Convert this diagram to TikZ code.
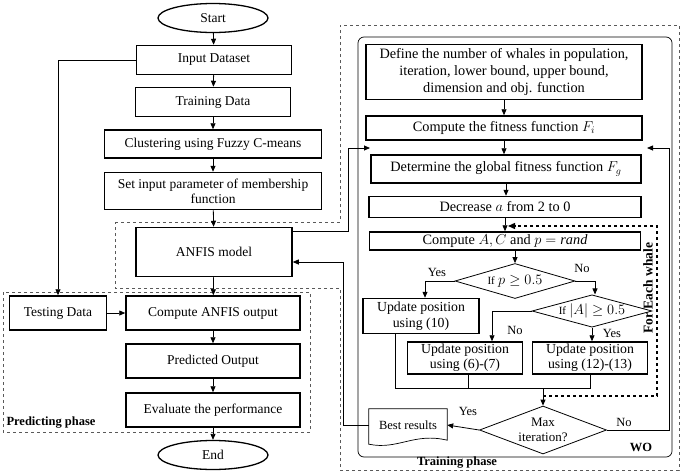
\documentclass[tikz,border=0pt]{standalone}
\usepackage{fontspec}
\setmainfont{Liberation Serif}
\usetikzlibrary{calc,positioning,arrows.meta,shapes.geometric}
\tikzstyle{box}   = [rectangle, draw, line width=1.5pt, align=center, inner sep=1pt]
\tikzstyle{arrow} = [line width=0.8pt, -{Triangle[length=6pt,width=5pt]}]

\begin{document}
\begin{tikzpicture}[x=1pt, y=-1pt,
			font=\fontsize{13.5}{15}\selectfont,
			term/.style={ellipse, draw, line width=1.3pt,
					minimum width=110pt, minimum height=29pt},
			decision/.style={diamond, draw, line width=0.8pt,
					inner sep=0pt, align=center},
			phase/.style={draw=black!65, dashed, line width=0.7pt},
			whaleloop/.style={dashed, line width=1.4pt,
					-{Triangle[length=7pt,width=6pt]}},
			lbl/.style={font=\fontsize{12.5}{14}\selectfont},
			head/.style={font=\fontsize{12.5}{14}\selectfont\bfseries}
		]
		\useasboundingbox (0,0) rectangle (685,474);
		% phases
		\draw[phase] (115,222) -- (340,222) -- (340,25) -- (679,25) -- (679,470)
			-- (340,470) -- (340,288) -- (115,288) -- cycle;
		\draw[phase] (3,292) rectangle (310,432);
		\draw[line width=0.7pt, rounded corners=6pt] (358,37) rectangle (672,457);
		\node[head, anchor=south west] (pp) at (3,432) {Predicting phase};
		\node[head] (tp) at (457,463) {Training phase};
		\node[head] (wo) at (641,447) {WO};

		% ANFIS side
		\node[term] (start) at (213,18) {Start};
		\node[box, minimum width=155pt, minimum height=29pt] (input) at (214,60) {Input Dataset};
		\node[box, minimum width=155pt, minimum height=29pt] (train) at (213,102) {Training Data};
		\node[box, minimum width=217pt, minimum height=28pt] (clus) at (213,144) {Clustering using Fuzzy C-means};
		\node[box, minimum width=217pt, minimum height=37pt, font=\fontsize{13.5}{15}\selectfont] (setp) at (213,191)
			{Set input parameter of membership\\function};
		\node[box, minimum width=156pt, minimum height=49pt] (anfis) at (214,252) {ANFIS model};
		\node[box, minimum width=97pt, minimum height=34pt] (test) at (58,313) {Testing Data};
		\node[box, minimum width=174pt, minimum height=34pt] (comp) at (213,313) {Compute ANFIS output};
		\node[box, minimum width=174pt, minimum height=34pt] (pred) at (213,361) {Predicted Output};
		\node[box, minimum width=174pt, minimum height=34pt] (eval) at (213,410) {Evaluate the performance};
		\node[term] (end) at (213,455) {End};

		\draw[arrow] (start) -- (input);
		\draw[arrow] (input) -- (train);
		\draw[arrow] (train) -- (clus);
		\draw[arrow] (clus) -- (setp);
		\draw[arrow] (setp) -- (anfis);
		\draw[arrow] (anfis) -- (comp);
		\draw[arrow] (test) -- (comp);
		\draw[arrow] (comp) -- (pred);
		\draw[arrow] (pred) -- (eval);
		\draw[arrow] (eval) -- (end);
		\draw[arrow] (input.west) -| (test.north);

		% WO side
		\node[box, minimum width=276pt, minimum height=55pt, font=\fontsize{14.3}{17}\selectfont] (def) at (504,72)
			{Define the number of whales in population,\\iteration, lower bound, upper bound,\\dimension and obj. function};
		\node[box, minimum width=276pt, minimum height=24pt, font=\fontsize{14.3}{16}\selectfont] (fit) at (504,128)
			{Compute the fitness function $F_i$};
		\node[box, minimum width=270pt, minimum height=28pt, font=\fontsize{14.3}{16}\selectfont] (glob) at (506,169)
			{Determine the global fitness function $F_g$};
		\node[box, minimum width=272pt, minimum height=21pt, font=\fontsize{14.3}{16}\selectfont] (dec) at (505,207)
			{Decrease $a$ from 2 to 0};
		\node[box, minimum width=271pt, minimum height=18pt, font=\fontsize{14.3}{16}\selectfont] (compa) at (505,241)
			{Compute $A, C$ and $p = \mathit{rand}$};
		\node[decision, shape aspect=3.4, minimum width=120pt, minimum height=35pt] (d1) at (515,281)
			{{\fontsize{11}{12}\selectfont If} $p \geq 0.5$};
		\node[decision, shape aspect=3.7, minimum width=120pt, minimum height=32pt] (d2) at (592,311)
			{{\fontsize{11}{12}\selectfont If} $|A| \geq 0.5$};
		\node[box, minimum width=116pt, minimum height=35pt, font=\fontsize{13.8}{16}\selectfont] (u10) at (421,316)
			{Update position\\using (10)};
		\node[box, minimum width=115pt, minimum height=32pt, font=\fontsize{13.8}{15}\selectfont] (u67) at (465,358)
			{Update position\\using (6)-(7)};
		\node[box, minimum width=115pt, minimum height=32pt, font=\fontsize{13.8}{15}\selectfont] (u1213) at (590,358)
			{Update position\\using (12)-(13)};
		\node[decision, shape aspect=2.6, minimum width=127pt, minimum height=48pt, font=\fontsize{13}{15}\selectfont] (maxit) at (543,430)
			{Max\\iteration?};
		\node[inner sep=0pt, minimum width=78pt, minimum height=32pt, font=\fontsize{12.5}{14}\selectfont] (best) at (408,425)
			{Best results};
		\draw[line width=0.7pt] (best.north west) -- (best.north east) -- ([yshift=1pt]best.south east)
			.. controls ($(best.south)+(6,-9)$) and ($(best.south)+(-10,9)$) .. ([yshift=-3pt]best.south west) -- cycle;
		\node[head, rotate=90, font=\fontsize{13.5}{15}\selectfont\bfseries] (whale) at (648,288) {For Each whale};

		\coordinate (fgin) at (370,148);
		\coordinate (fgout) at (647,148);
		\coordinate (mrg) at (543,388);
		\coordinate (wbot) at (543,396);
		\coordinate (wtop) at (508,226);

		\draw[arrow] (def.south) -- (def.south |- fit.north);
		\draw[arrow] (fit.south) -- (fit.south |- glob.north);
		\draw[arrow] (glob.south) -- (glob.south |- dec.north);
		\draw[arrow] (dec.south) -- (dec.south |- compa.north);
		\draw[arrow] (d1.north |- compa.south) -- (d1.north);
		\draw[arrow] (d1.west) -| ([xshift=4pt]u10.north);
		\draw[arrow] (d1.east) -| ([xshift=3pt]d2.north);
		\draw[arrow] (d2.west) -| ([xshift=27pt]u67.north);
		\draw[arrow] (d2.south) -- (d2.south |- u1213.north);
		\draw[line width=0.7pt] ([xshift=-26pt]u10.south) |- (u1213.south |- mrg) -- (u1213.south);
		\draw[line width=0.7pt] ([xshift=3pt]u67.south) -- ([xshift=3pt]u67.south |- mrg);
		\draw[arrow] (mrg) -- (maxit.north);
		\draw[whaleloop] (wbot) -- ++(114,0) |- (wtop);
		\draw[arrow] (maxit.west) -- (best.east);
		\draw[arrow] (maxit.east) -- ++(62,0) |- (fgout);
		\draw[arrow] (best.west) -- ++(-25,0) |- ([yshift=-10pt]anfis.east);
		\draw[arrow] ([yshift=-5pt]anfis.north east) -- ++(56,0) |- (fgin);

		\node[lbl] (yes1) at (437,272) {Yes};
		\node[lbl] (no1) at (582,268) {No};
		\node[lbl] (no2) at (515,330) {No};
		\node[lbl] (yes2) at (612,333) {Yes};
		\node[lbl] (yes3) at (468,411) {Yes};
		\node[lbl] (no3) at (624,422) {No};
	\end{tikzpicture}
\end{document}
